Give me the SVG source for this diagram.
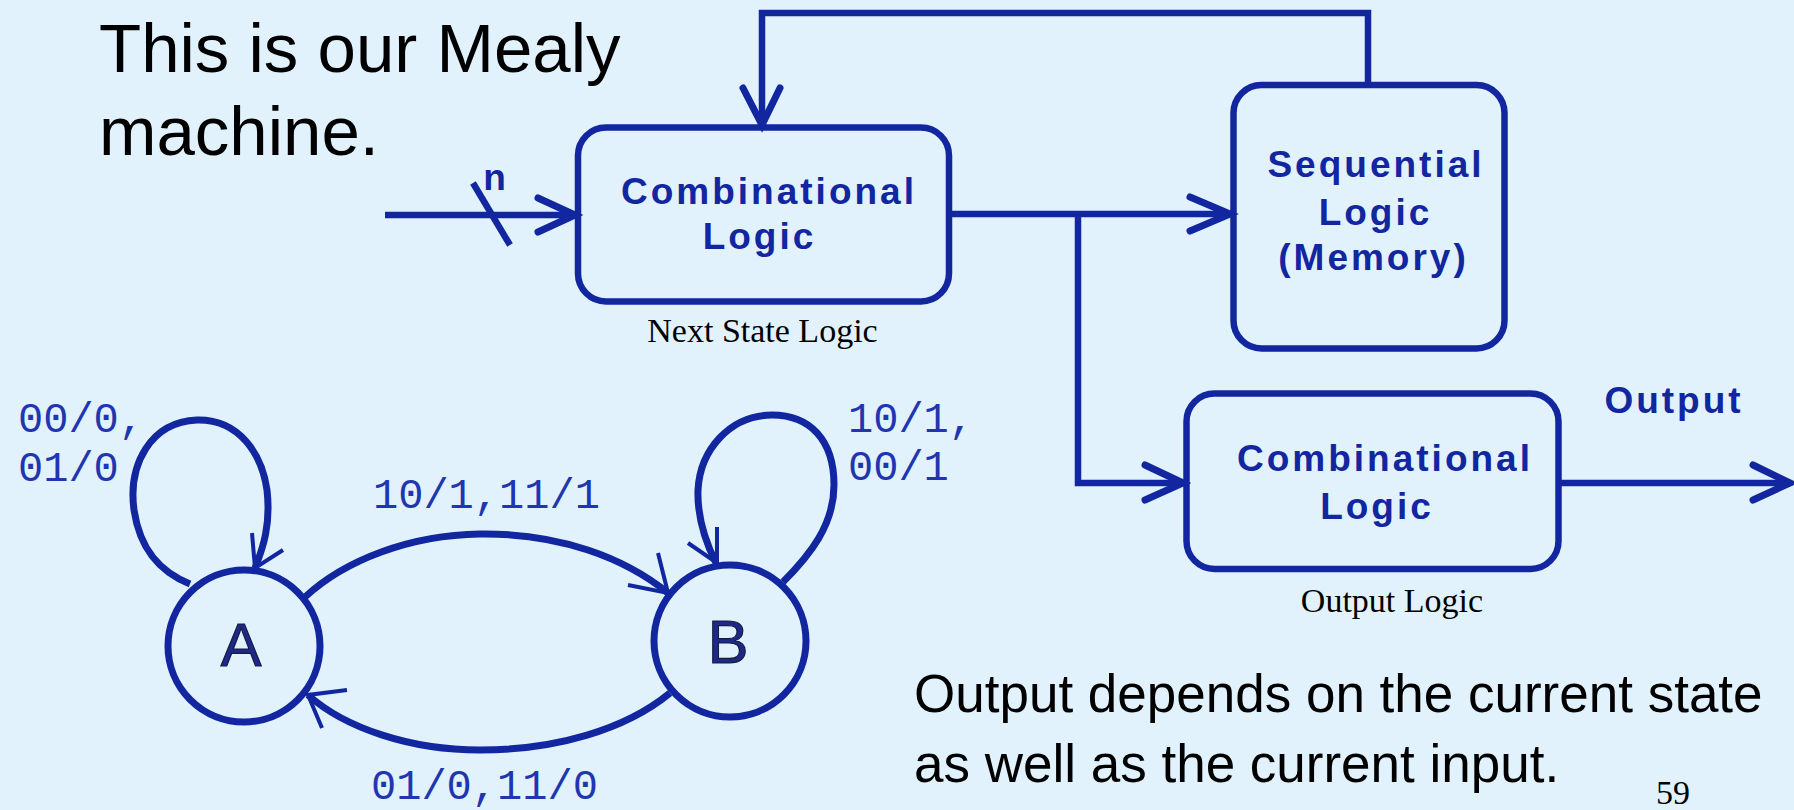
<svg xmlns="http://www.w3.org/2000/svg" width="1794" height="810" viewBox="0 0 1794 810">
<style>
.bg{fill:#E1F2FD}
.box{fill:none;stroke:#1226A0;stroke-width:6.5}
.wire{fill:none;stroke:#1226A0;stroke-width:6.5}
.head{fill:none;stroke:#1226A0;stroke-width:7;stroke-linecap:round;stroke-linejoin:miter}
.edge{fill:none;stroke:#1226A0;stroke-width:7}
.ehead{fill:none;stroke:#1226A0;stroke-width:4}
.state{fill:none;stroke:#1226A0;stroke-width:7}
.bt{font-family:"Liberation Sans",Arial,sans-serif;font-weight:bold;font-size:37px;letter-spacing:3px;fill:#1226A0;text-anchor:middle}
.cap{font-family:"Liberation Serif","Times New Roman",serif;font-size:34px;fill:#000;text-anchor:middle}
.big{font-family:"Liberation Sans",Arial,sans-serif;fill:#000}
.lbl{font-family:"Liberation Mono","Courier New",monospace;font-size:42px;fill:#1f36B0}
.sl{font-family:"Liberation Sans",Arial,sans-serif;font-size:61px;fill:#1b2a8a;stroke:#1a1a3a;stroke-width:1.2;text-anchor:middle}
</style>
<rect class="bg" x="0" y="0" width="1794" height="810"/>

<g id="title">
<text class="big" x="99" y="72" font-size="69">This is our Mealy</text>
<text class="big" x="99" y="155" font-size="69">machine.</text>
</g>

<g id="next-state-logic">
<rect class="box" x="578" y="127.5" width="371" height="174" rx="28"/>
<text class="bt" x="769" y="204">Combinational</text>
<text class="bt" x="759.5" y="249">Logic</text>
<text class="cap" x="762.5" y="342">Next State Logic</text>
</g>

<g id="sequential-logic">
<rect class="box" x="1233.5" y="85" width="271" height="263.5" rx="28"/>
<text class="bt" x="1376" y="177">Sequential</text>
<text class="bt" x="1375.5" y="225">Logic</text>
<text class="bt" x="1373.5" y="270">(Memory)</text>
</g>

<g id="output-logic">
<rect class="box" x="1186.5" y="393.5" width="372" height="175.5" rx="28"/>
<text class="bt" x="1385" y="471">Combinational</text>
<text class="bt" x="1377" y="519">Logic</text>
<text class="cap" x="1392" y="612">Output Logic</text>
</g>

<g id="output-label">
<text class="bt" x="1674" y="413">Output</text>
</g>

<g id="connectors">
<path class="wire" d="M385 215 H578"/>
<path class="head" d="M538 198 L575 215 L538 232"/>
<path class="wire" d="M473 183 L510 245" stroke-width="5"/>
<text class="bt" x="496" y="190" font-size="30" letter-spacing="0">n</text>
<path class="wire" d="M1368 85 V13 H762 V125"/>
<path class="head" d="M743 88 L762 125 L780 88"/>
<path class="wire" d="M949 214 H1231"/>
<path class="head" d="M1190 197 L1230 214 L1190 231"/>
<path class="wire" d="M1078 214 V483 H1184"/>
<path class="head" d="M1145 465 L1183 483 L1145 500"/>
<path class="wire" d="M1558 483 H1790"/>
<path class="head" d="M1753 465 L1790 483 L1753 500"/>
</g>

<g id="state-A">
<circle class="state" cx="244" cy="646" r="76"/>
<text class="sl" x="241" y="666">A</text>
</g>

<g id="state-B">
<circle class="state" cx="730" cy="641" r="76"/>
<text class="sl" x="728" y="663">B</text>
</g>

<g id="fsm-edges">
<path class="edge" d="M190 584 C160 572 140 550 134 510 C128 465 150 422 197 420 C240 419 262 455 267 490 C271 525 263 548 255 568"/>
<path class="ehead" d="M252 533 L255 568 L283 550"/>
<path class="edge" d="M783 582 C810 555 834 525 834 485 C834 440 810 415 772 415 C730 415 700 450 698 490 C697 520 707 545 716 563"/>
<path class="ehead" d="M717 527 L717 563 L688 543"/>
<path class="edge" d="M305 597 C345 560 410 535 480 534 C560 533 625 558 668 593"/>
<path class="ehead" d="M658 553 L668 593 L628 585"/>
<path class="edge" d="M670 693 C625 730 555 750 480 750 C410 750 345 728 308 695"/>
<path class="ehead" d="M347 690 L308 695 L322 728"/>
</g>

<g id="fsm-labels">
<text class="lbl" x="18" y="432">00/0,</text>
<text class="lbl" x="18" y="481">01/0</text>
<text class="lbl" x="373" y="508">10/1,11/1</text>
<text class="lbl" x="371" y="799">01/0,11/0</text>
<text class="lbl" x="848" y="432">10/1,</text>
<text class="lbl" x="848" y="480">00/1</text>
</g>

<g id="note">
<text class="big" x="914" y="712" font-size="53">Output depends on the current state</text>
<text class="big" x="914" y="782" font-size="53">as well as the current input.</text>
<text class="cap" x="1673" y="804" text-anchor="middle">59</text>
</g>
</svg>
